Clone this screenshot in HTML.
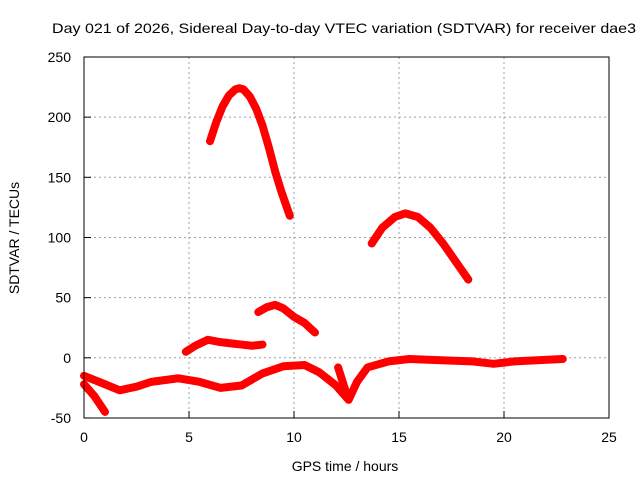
<!DOCTYPE html>
<html><head><meta charset="utf-8"><style>
body{margin:0;background:#fff;}
svg{display:block;font-family:"Liberation Sans",sans-serif;}
</style></head><body>
<svg id="chart" width="640" height="480" viewBox="0 0 640 480">
<text x="52" y="33" font-size="14" textLength="584" lengthAdjust="spacingAndGlyphs">Day 021 of 2026, Sidereal Day-to-day VTEC variation (SDTVAR) for receiver dae3</text>
<text x="345" y="471" font-size="14" text-anchor="middle">GPS time / hours</text>
<text transform="translate(19,238) rotate(-90)" font-size="14" text-anchor="middle">SDTVAR / TECUs</text>
<g id="grid"></g><g id="series"></g>
<rect x="84" y="57" width="525" height="361" fill="none" stroke="#000" stroke-width="1"/>
<g id="ticks"></g>
</svg>
<script>
const xTicks=[0,5,10,15,20,25];
const yTicks=[-50,0,50,100,150,200,250];
const arcHours=[6.0,6.3,6.6,6.9,7.2,7.4,7.6,7.9,8.2,8.5,8.8,9.1,9.4,9.8];
const arcValues=[180,196,209,218,223,224,223,217,207,193,175,155,138,118];
const eveHours=[13.7,14.2,14.8,15.3,15.9,16.5,17.1,17.7,18.3];
const eveValues=[95,108,117,120,117,108,95,80,65];
const midHours=[8.3,8.7,9.1,9.5,10.0,10.5,11.0];
const midValues=[38,42,44,41,34,29,21];
const lowHours=[4.85,5.3,5.9,6.5,7.0,7.5,8.0,8.5];
const lowValues=[5,10,15,13,12,11,10,11];
const baseHours=[0,1,1.7,2.5,3.2,4.5,5.5,6.5,7.5,8.5,9.5,10.5,11.2,12.0,12.6,13.0,13.5,14.5,15.5,17,18.5,19.5,20.5,22.8];
const baseValues=[-15,-22,-27,-24,-20,-17,-20,-25,-23,-13,-7,-6,-12,-23,-35,-20,-8,-3,-1,-2,-3,-5,-3,-1];
const dropHours=[0,0.5,1.0];
const dropValues=[-22,-32,-45];
const branchHours=[12.1,12.5];
const branchValues=[-8,-30];
const x=h=>84+h*21;
const y=v=>357.8-v*1.2033;
const NS="http://www.w3.org/2000/svg";
const grid=document.getElementById('grid'),ticks=document.getElementById('ticks'),ser=document.getElementById('series');
function mk(tag,attrs,parent){const e=document.createElementNS(NS,tag);for(const k in attrs)e.setAttribute(k,attrs[k]);parent.appendChild(e);return e;}
xTicks.forEach(t=>{
 if(t>0&&t<25){const g=mk('line',{x1:x(t),x2:x(t),y1:57,y2:418,stroke:'#a0a0a0','stroke-dasharray':'2,3'},grid);
 
 }
 const a=mk('line',{x1:x(t),x2:x(t),y1:418,y2:411,stroke:'#000'},ticks);
 
 
 const l=mk('text',{x:x(t),y:442,'font-size':14,'text-anchor':'middle'},ticks);l.textContent=t;
 
 
});
yTicks.forEach(t=>{
 if(t>-50&&t<250){const g=mk('line',{x1:84,x2:609,y1:y(t),y2:y(t),stroke:'#a0a0a0','stroke-dasharray':'2,3'},grid);
 
 }
 const a=mk('line',{x1:84,x2:91,y1:y(t),y2:y(t),stroke:'#000'},ticks);
 
 
 const l=mk('text',{x:71,y:y(t)+5,'font-size':14,'text-anchor':'end'},ticks);l.textContent=t;
 
 
});
[[arcHours,arcValues,'arc-series'],[eveHours,eveValues,'evening-series'],[midHours,midValues,'mid-series'],[lowHours,lowValues,'low-series'],[baseHours,baseValues,'baseline-series'],[dropHours,dropValues,'drop-series'],[branchHours,branchValues,'branch-series']].forEach(([hs,vs,n])=>{
 const p=mk('polyline',{points:hs.map((h,i)=>x(h)+','+y(vs[i])).join(' '),fill:'none',stroke:'#ff0000','stroke-width':8,'stroke-linejoin':'round','stroke-linecap':'round'},ser);
 
 
});
</script>
</body></html>
